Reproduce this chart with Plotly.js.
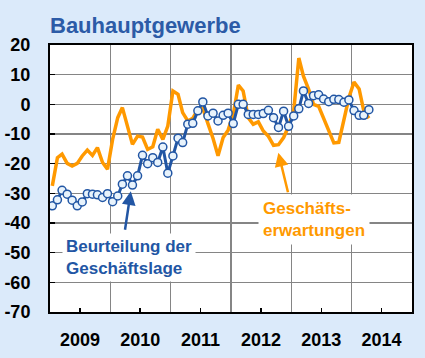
<!DOCTYPE html>
<html>
<head>
<meta charset="utf-8">
<script src="https://cdn.plot.ly/plotly-3.0.1.min.js"></script>
<style>html,body{margin:0;padding:0;background:#dbeafa;}#chart{width:425px;height:358px;}</style>
</head>
<body>
<div id="chart"></div>
<script>
// Monthly data, January 2009 to April 2014
var startYear = 2009;
var nMonths = 64;

var geschaeftslage = [
  -34.2, -32.2, -29.0, -30.3, -32.3, -34.2, -32.9, -30.1, -30.3, -30.5, -31.4, -30.1,
  -32.8, -30.9, -26.9, -24.1, -27.2, -24.1, -17.2, -20.0, -18.0, -19.6, -14.4, -23.2,
  -17.4, -11.4, -12.9, -6.7, -6.4, -2.2, 0.8, -3.9, -3.0, -5.6, -3.7, -3.0,
  -6.5, 0.0, 0.0, -3.4, -3.4, -3.4, -3.1, -2.0, -4.5, -7.8, -2.3, -7.4,
  -3.9, -1.5, 4.5, 0.3, 2.9, 3.2, 1.8, 0.9, 1.7, 1.6, 0.7, 1.5,
  -2.1, -3.7, -3.7, -1.8
];

var geschaeftserwartungen = [
  -27.5, -18.0, -16.8, -19.9, -20.8, -19.9, -17.4, -15.4, -17.2, -14.6, -19.6, -21.9,
  -11.8, -4.5, -1.1, -7.8, -13.5, -10.7, -11.0, -15.2, -14.3, -8.4, -11.8, -7.3,
  4.5, 3.4, -2.8, -5.6, -4.7, -1.7, -1.3, -6.5, -11.5, -17.3, -11.2, -8.7,
  -3.5, 6.5, 4.5, -4.5, -6.7, -5.9, -9.0, -10.8, -13.8, -13.6, -11.2, -7.4,
  -2.2, 15.6, 9.5, 5.1, 0.0, -0.7, -4.5, -8.4, -13.0, -12.8, -5.1, 2.2,
  7.5, 5.2, -2.2, -4.7
];

var yearLabels = ['2009', '2010', '2011', '2012', '2013', '2014'];
var yTicks = [20, 10, 0, -10, -20, -30, -40, -50, -60, -70];

function pad(n){ return (n < 10 ? '0' : '') + n; }
var months = [];
for (var i = 0; i < nMonths; i++) {
  var y = startYear + Math.floor(i / 12);
  var m = (i % 12) + 1;
  months.push(y + '-' + pad(m) + '-15');
}
var midYears = yearLabels.map(function(y){ return y + '-07-01'; });
var yearStarts = yearLabels.map(function(y){ return y + '-01-01'; }).concat([(+yearLabels[yearLabels.length-1] + 1) + '-01-01']);

var FONT = 'Liberation Sans, Arial, sans-serif';
var BLUE = '#2256a4';
var ORANGE = '#ff9900';

var traces = [
  {
    x: months, y: geschaeftserwartungen, type: 'scatter', mode: 'lines',
    line: {color: ORANGE, width: 3.5}, hoverinfo: 'skip'
  },
  {
    x: months, y: geschaeftslage, type: 'scatter', mode: 'lines+markers',
    line: {color: BLUE, width: 3},
    marker: {symbol: 'circle', size: 8, color: '#e8f3fc', line: {color: BLUE, width: 1.5}},
    hoverinfo: 'skip'
  }
];

var layout = {
  width: 425, height: 358,
  paper_bgcolor: '#dbeafa', plot_bgcolor: '#ffffff',
  margin: {l: 50, r: 13, t: 45, b: 46},
  showlegend: false,
  title: {
    text: '<b>Bauhauptgewerbe</b>',
    font: {family: FONT, size: 22, color: '#2c5ba7'},
    xref: 'paper', x: 0, xanchor: 'left',
    yref: 'container', y: 0.928, yanchor: 'middle'
  },
  xaxis: {
    type: 'date',
    range: [yearStarts[0], yearStarts[yearStarts.length - 1]],
    tickmode: 'array', tickvals: midYears, ticktext: yearLabels,
    ticks: 'inside', ticklen: 4, tickwidth: 1.5, tickcolor: '#000',
    showgrid: false,
    minor: {tickmode: 'array', tickvals: yearStarts, showgrid: true, gridcolor: '#858585', gridwidth: 1.5, ticks: ''},
    showline: true, linecolor: '#000', linewidth: 2, mirror: true,
    tickfont: {family: FONT, size: 18, color: '#000', weight: 'bold'},
    ticklabelstandoff: 10,
    zeroline: false, fixedrange: true
  },
  yaxis: {
    range: [-70, 20],
    tickmode: 'array', tickvals: yTicks, ticktext: yTicks.map(String),
    ticks: 'inside', ticklen: 5, tickwidth: 1.5, tickcolor: '#000',
    showgrid: true, gridcolor: '#858585', gridwidth: 1.5,
    showline: true, linecolor: '#000', linewidth: 2, mirror: true,
    tickfont: {family: FONT, size: 18, color: '#000', weight: 'bold'},
    ticklabelstandoff: 14,
    zeroline: false, fixedrange: true
  },
  annotations: [
    {
      xref: 'x', yref: 'y', x: '2009-03-14', y: -51.5,
      xanchor: 'left', yanchor: 'middle', align: 'left',
      text: '<b>Beurteilung der<br>Geschäftslage</b>',
      font: {family: FONT, size: 17, color: BLUE},
      bgcolor: '#ffffff', borderpad: 3, showarrow: false
    },
    {
      xref: 'x', yref: 'y', x: '2010-05-05', y: -29.3,
      ax: -6, ay: 40, text: '', showarrow: true,
      arrowhead: 2, arrowsize: 1.1, arrowwidth: 2.5, arrowcolor: BLUE
    },
    {
      xref: 'x', yref: 'y', x: '2012-06-13', y: -38.7,
      xanchor: 'left', yanchor: 'middle', align: 'left',
      text: '<b>Geschäfts-<br>erwartungen</b>',
      font: {family: FONT, size: 17, color: ORANGE},
      bgcolor: '#ffffff', borderpad: 4, showarrow: false
    },
    {
      xref: 'x', yref: 'y', x: '2012-10-14', y: -16.3,
      ax: 10, ay: 41, text: '', showarrow: true,
      arrowhead: 2, arrowsize: 1.1, arrowwidth: 2.5, arrowcolor: ORANGE
    }
  ]
};

Plotly.newPlot('chart', traces, layout, {displayModeBar: false, staticPlot: true});
</script>
</body>
</html>
